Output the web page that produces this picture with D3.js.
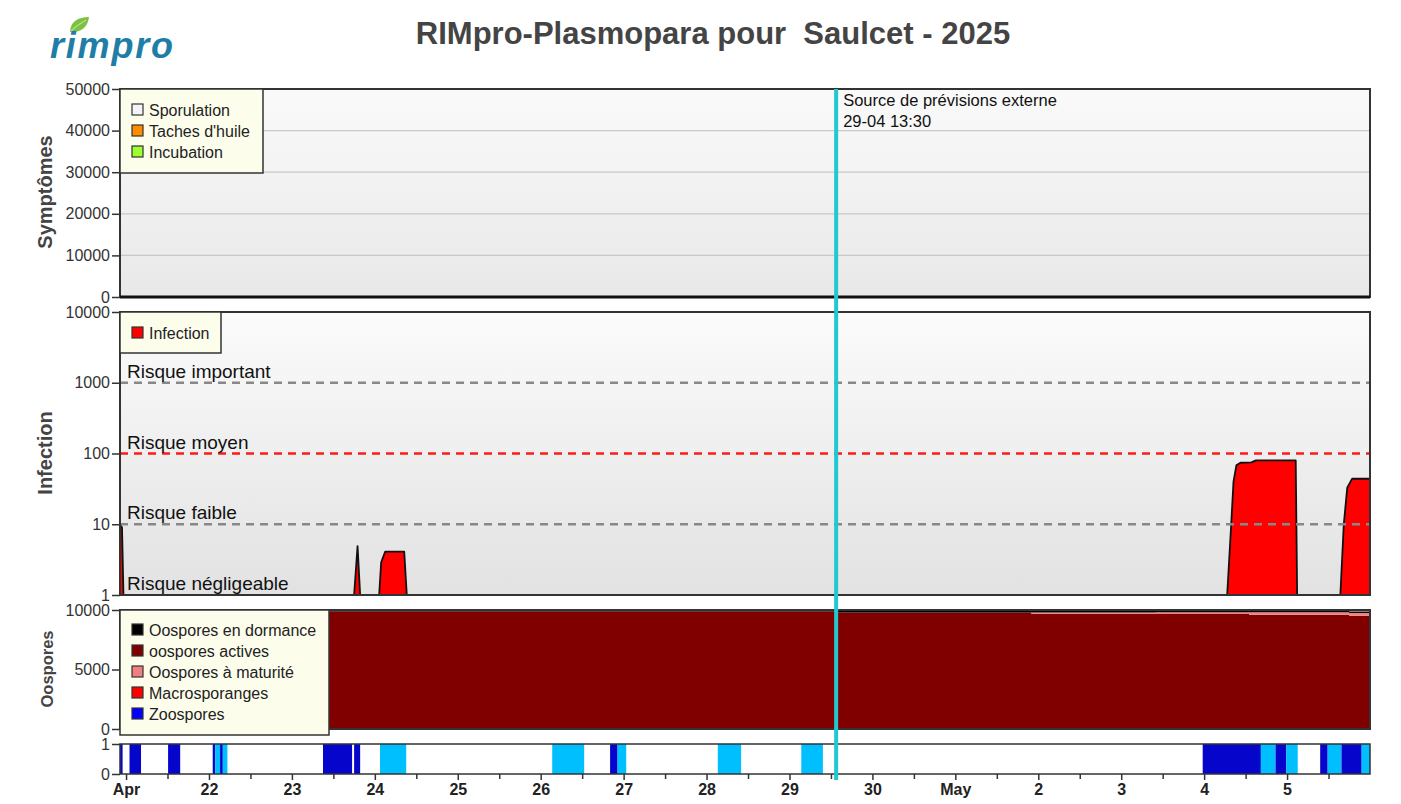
<!DOCTYPE html>
<html>
<head>
<meta charset="utf-8">
<script src="https://cdn.jsdelivr.net/npm/d3@7"></script>
<style>
  body { margin: 0; background: #fff; }
  text { font-family: "Liberation Sans", Arial, sans-serif; }
</style>
</head>
<body>
<div id="chart"></div>
<script>
var svgWidth = 1401;
var svgHeight = 804;

// ---- data ----
var startTime = "2025-04-20 22:15";
var endTime = "2025-05-06 00:00";
var forecastTime = "2025-04-29 13:30";

var symptomTicks = [0, 10000, 20000, 30000, 40000, 50000];
var infectionTicks = [1, 10, 100, 1000, 10000];
var oosporeTicks = [0, 5000, 10000];
var stripTicks = [0, 1];

var riskLevels = [1000, 100, 10, 1];
var riskLabels = ["Risque important", "Risque moyen", "Risque faible", "Risque négligeable"];

var infectionData = [
  ["2025-04-20 22:15", 10], ["2025-04-20 22:50", 9], ["2025-04-20 23:15", 1],
  ["2025-04-23 18:00", 1], ["2025-04-23 19:00", 4.9], ["2025-04-23 19:45", 1],
  ["2025-04-24 01:15", 1], ["2025-04-24 01:50", 2.9], ["2025-04-24 03:00", 4.1],
  ["2025-04-24 08:30", 4.1], ["2025-04-24 09:15", 1],
  ["2025-05-04 06:40", 1], ["2025-05-04 07:50", 10], ["2025-05-04 08:30", 40],
  ["2025-05-04 09:20", 68], ["2025-05-04 10:30", 74], ["2025-05-04 13:40", 75],
  ["2025-05-04 15:00", 80], ["2025-05-05 02:30", 80], ["2025-05-05 02:55", 1],
  ["2025-05-05 15:25", 1], ["2025-05-05 16:25", 10], ["2025-05-05 17:25", 33],
  ["2025-05-05 18:50", 44], ["2025-05-06 00:00", 44]
];

var oosTimes = ["2025-04-20 22:15", "2025-04-29 14:00", "2025-05-01 22:00", "2025-05-03 10:00", "2025-05-04 13:00", "2025-05-05 18:00", "2025-05-06 00:00"];
var oosDormance = [120, 170, 170, 160, 150, 140, 140];
var oosActives = [9880, 9790, 9690, 9660, 9600, 9520, 9520];
var oosMaturite = [0, 0, 110, 150, 220, 220, 220];
var oosMacro = [0, 0, 0, 0, 0, 0, 0];

// zoospore strip: [start, end, kind]
var zooSpans = [
  ["2025-04-20 22:15", "2025-04-20 23:00", "dark"],
  ["2025-04-21 01:00", "2025-04-21 04:20", "dark"],
  ["2025-04-21 12:10", "2025-04-21 15:40", "dark"],
  ["2025-04-22 01:05", "2025-04-22 01:50", "dark"],
  ["2025-04-22 01:50", "2025-04-22 03:13", "light"],
  ["2025-04-22 03:13", "2025-04-22 04:00", "dark"],
  ["2025-04-22 04:00", "2025-04-22 05:20", "light"],
  ["2025-04-23 09:00", "2025-04-23 17:25", "dark"],
  ["2025-04-23 18:00", "2025-04-23 19:45", "dark"],
  ["2025-04-24 01:30", "2025-04-24 09:05", "light"],
  ["2025-04-26 03:20", "2025-04-26 12:35", "light"],
  ["2025-04-26 20:05", "2025-04-26 22:15", "dark"],
  ["2025-04-26 22:15", "2025-04-27 00:45", "light"],
  ["2025-04-28 03:15", "2025-04-28 10:00", "light"],
  ["2025-04-29 03:25", "2025-04-29 09:40", "light"],
  ["2025-05-03 23:35", "2025-05-04 16:25", "dark"],
  ["2025-05-04 16:25", "2025-05-04 20:40", "light"],
  ["2025-05-04 20:40", "2025-05-04 23:45", "dark"],
  ["2025-05-04 23:45", "2025-05-05 03:05", "light"],
  ["2025-05-05 09:35", "2025-05-05 11:45", "dark"],
  ["2025-05-05 11:45", "2025-05-05 15:45", "light"],
  ["2025-05-05 15:45", "2025-05-05 21:35", "dark"],
  ["2025-05-05 21:35", "2025-05-06 00:00", "light"]
];

var dayTicks = ["2025-04-21", "2025-04-22", "2025-04-23", "2025-04-24", "2025-04-25", "2025-04-26", "2025-04-27", "2025-04-28", "2025-04-29", "2025-04-30", "2025-05-01", "2025-05-02", "2025-05-03", "2025-05-04", "2025-05-05"];
var dayLabels = ["Apr", "22", "23", "24", "25", "26", "27", "28", "29", "30", "May", "2", "3", "4", "5"];

var symptomLegend = ["Sporulation", "Taches d'huile", "Incubation"];
var symptomColors = ["#f4f4f8", "#ff8c00", "#9cff2e"];
var oosLegend = ["Oospores en dormance", "oospores actives", "Oospores à maturité", "Macrosporanges", "Zoospores"];
var oosColors = ["#000000", "#800000", "#f08080", "#ff0000", "#0000ff"];

// ---- layout ----
var parseTime = d3.timeParse("%Y-%m-%d %H:%M");
var parseDay = d3.timeParse("%Y-%m-%d");
var left = 120, right = 1370;
var panels = {
  symp: { top: 89, bottom: 297 },
  inf: { top: 312, bottom: 595 },
  oos: { top: 610, bottom: 729 },
  strip: { top: 744, bottom: 774 }
};

var svg = d3.select("#chart")
  .append("svg")
  .attr("width", svgWidth)
  .attr("height", svgHeight);

var defs = svg.append("defs");
function gradient(id, c1, c2) {
  var g = defs.append("linearGradient").attr("id", id)
    .attr("x1", 0).attr("y1", 0).attr("x2", 0).attr("y2", 1);
  g.append("stop").attr("offset", "0%").attr("stop-color", c1);
  g.append("stop").attr("offset", "100%").attr("stop-color", c2);
}
gradient("bgSymp", "#fafafa", "#e8e8e8");
gradient("bgInf", "#fbfbfb", "#e2e2e2");

var x = d3.scaleTime()
  .domain([parseTime(startTime), parseTime(endTime)])
  .range([left, right]);

var ySymp = d3.scaleLinear().domain([0, 50000]).range([panels.symp.bottom, panels.symp.top]);
var yInf = d3.scaleLog().domain([1, 10000]).range([panels.inf.bottom, panels.inf.top]);
var yOos = d3.scaleLinear().domain([0, 10000]).range([panels.oos.bottom, panels.oos.top]);
var yStrip = d3.scaleLinear().domain([0, 1]).range([panels.strip.bottom, panels.strip.top]);

// logo
var logo = svg.append("g");
logo.append("path")
  .attr("d", "M70,32 C70,22 78,17 89,17 C88,27 81,33 70,32 Z")
  .attr("fill", "#7cc242");
logo.append("path")
  .attr("d", "M71,31 C76,26 81,23 86,20")
  .attr("stroke", "#b8e08a").attr("stroke-width", 1.2).attr("fill", "none");
logo.append("text")
  .attr("x", 50).attr("y", 58)
  .attr("font-size", 36)
  .attr("font-weight", "bold")
  .attr("font-style", "italic")
  .attr("textLength", 123)
  .attr("fill", "#1f7ea6")
  .text("rimpro");

// title
svg.append("text")
  .attr("x", 713).attr("y", 44)
  .attr("text-anchor", "middle")
  .attr("font-size", 31)
  .attr("font-weight", "bold")
  .attr("fill", "#444")
  .style("white-space", "pre")
  .text("RIMpro-Plasmopara pour  Saulcet - 2025");

function leftAxis(scale, ticks, fmt) {
  var g = svg.append("g")
    .attr("transform", `translate(${left}, 0)`)
    .call(d3.axisLeft(scale).tickValues(ticks).tickSize(8).tickPadding(2).tickFormat(fmt || d3.format("d")));
  g.select(".domain").remove();
  g.selectAll("line").attr("stroke", "#333").attr("stroke-width", 1.5);
  g.selectAll("text").attr("font-size", 16).attr("fill", "#333").attr("font-family", "Liberation Sans, Arial, sans-serif");
  return g;
}

function yTitle(text, cy, size, cx) {
  svg.append("text")
    .attr("transform", `translate(${cx}, ${cy}) rotate(-90)`)
    .attr("text-anchor", "middle")
    .attr("font-size", size)
    .attr("font-weight", "bold")
    .attr("fill", "#444")
    .text(text);
}

function legend(items, colors, x0, y0, w, h, rowH, firstY) {
  var g = svg.append("g");
  g.append("rect").attr("x", x0).attr("y", y0).attr("width", w).attr("height", h)
    .attr("fill", "#fdfdec").attr("stroke", "#333").attr("stroke-width", 1.5);
  items.forEach(function(name, i) {
    var cy = firstY + i * rowH;
    g.append("rect").attr("x", x0 + 12).attr("y", cy - 6).attr("width", 11).attr("height", 11)
      .attr("fill", colors[i]).attr("stroke", "#333").attr("stroke-width", 1.2);
    g.append("text").attr("x", x0 + 29).attr("y", cy + 6)
      .attr("font-size", 16).attr("fill", "#222").text(name);
  });
}

// ===== Symptômes panel =====
var ps = panels.symp;
svg.append("rect").attr("x", left).attr("y", ps.top).attr("width", right - left).attr("height", ps.bottom - ps.top)
  .attr("fill", "url(#bgSymp)");
svg.append("g").selectAll("line").data(symptomTicks.slice(1, -1)).enter().append("line")
  .attr("x1", left).attr("x2", right)
  .attr("y1", d => ySymp(d)).attr("y2", d => ySymp(d))
  .attr("stroke", "#c8c8c8").attr("stroke-width", 1.2);
svg.append("rect").attr("x", left).attr("y", ps.top).attr("width", right - left).attr("height", ps.bottom - ps.top)
  .attr("fill", "none").attr("stroke", "#333").attr("stroke-width", 2);
svg.append("line").attr("x1", left).attr("x2", right).attr("y1", ySymp(0)).attr("y2", ySymp(0))
  .attr("stroke", "#111").attr("stroke-width", 3);
leftAxis(ySymp, symptomTicks);
yTitle("Symptômes", 192, 20, 52);
legend(symptomLegend, symptomColors, left, ps.top, 143, 84, 21, 110);

// ===== Infection panel =====
var pi = panels.inf;
svg.append("rect").attr("x", left).attr("y", pi.top).attr("width", right - left).attr("height", pi.bottom - pi.top)
  .attr("fill", "url(#bgInf)");

var infArea = d3.area()
  .x(d => x(parseTime(d[0])))
  .y0(yInf(1))
  .y1(d => yInf(d[1]));
svg.append("path").datum(infectionData)
  .attr("d", infArea)
  .attr("fill", "#ff0000")
  .attr("stroke", "#111")
  .attr("stroke-width", 1.8)
  .attr("stroke-linejoin", "round");

svg.append("g").selectAll("line").data(riskLevels.slice(0, 3)).enter().append("line")
  .attr("x1", left).attr("x2", right)
  .attr("y1", d => yInf(d)).attr("y2", d => yInf(d))
  .attr("stroke", d => d === 100 ? "#ff1a1a" : "#888")
  .attr("stroke-width", 2.5)
  .attr("stroke-dasharray", "8,6");

svg.append("g").selectAll("text").data(riskLevels).enter().append("text")
  .attr("x", 127)
  .attr("y", d => yInf(d) - 5)
  .attr("font-size", 19)
  .attr("fill", "#111")
  .text((d, i) => riskLabels[i]);

svg.append("rect").attr("x", left).attr("y", pi.top).attr("width", right - left).attr("height", pi.bottom - pi.top)
  .attr("fill", "none").attr("stroke", "#333").attr("stroke-width", 2);
leftAxis(yInf, infectionTicks, d3.format("d"));
yTitle("Infection", 453, 20, 52);
legend(["Infection"], ["#ff0000"], left, pi.top, 101, 41, 21, 333);

// ===== Oospores panel =====
var po = panels.oos;
svg.append("rect").attr("x", left).attr("y", po.top).attr("width", right - left).attr("height", po.bottom - po.top)
  .attr("fill", "#ffffff");

var oosRows = oosTimes.map(function(t, i) {
  return { date: parseTime(t), actives: oosActives[i], maturite: oosMaturite[i], macro: oosMacro[i], dormance: oosDormance[i] };
});
var stack = d3.stack().keys(["actives", "maturite", "macro", "dormance"]);
var layers = stack(oosRows);
var layerColors = { actives: "#800000", maturite: "#f08080", macro: "#ff0000", dormance: "#000000" };
var oosArea = d3.area()
  .curve(d3.curveStepAfter)
  .x(d => x(d.data.date))
  .y0(d => yOos(d[0]))
  .y1(d => yOos(d[1]));
svg.append("g").selectAll("path").data(layers).enter().append("path")
  .attr("d", oosArea)
  .attr("fill", d => layerColors[d.key]);

svg.append("rect").attr("x", left).attr("y", po.top).attr("width", right - left).attr("height", po.bottom - po.top)
  .attr("fill", "none").attr("stroke", "#333").attr("stroke-width", 2);
leftAxis(yOos, oosporeTicks);
yTitle("Oospores", 669, 16.5, 53);

// ===== zoospore strip =====
var pz = panels.strip;
svg.append("rect").attr("x", left).attr("y", pz.top).attr("width", right - left).attr("height", pz.bottom - pz.top)
  .attr("fill", "#fff");
svg.append("g").selectAll("rect").data(zooSpans).enter().append("rect")
  .attr("x", d => x(parseTime(d[0])))
  .attr("width", d => x(parseTime(d[1])) - x(parseTime(d[0])))
  .attr("y", yStrip(1))
  .attr("height", yStrip(0) - yStrip(1))
  .attr("fill", d => d[2] === "dark" ? "#0505cc" : "#00bfff");
svg.append("rect").attr("x", left).attr("y", pz.top).attr("width", right - left).attr("height", pz.bottom - pz.top)
  .attr("fill", "none").attr("stroke", "#333").attr("stroke-width", 1.5);
leftAxis(yStrip, stripTicks);

// oospore legend drawn over strip top
legend(oosLegend, oosColors, left, po.top, 209, 125, 21, 630);

// bottom time axis
var days = dayTicks.map(parseDay);
var noons = days.map(d => d3.timeHour.offset(d, 12)).filter(d => d < x.domain()[1]);
var minor = svg.append("g")
  .attr("transform", `translate(0, ${pz.bottom})`)
  .call(d3.axisBottom(x).tickValues(noons).tickSize(5).tickFormat(""));
minor.select(".domain").remove();
minor.selectAll("line").attr("stroke", "#333").attr("stroke-width", 1.5);

var major = svg.append("g")
  .attr("transform", `translate(0, ${pz.bottom})`)
  .call(d3.axisBottom(x).tickValues(days).tickSize(6).tickPadding(4)
    .tickFormat((d, i) => dayLabels[i]));
major.select(".domain").remove();
major.selectAll("line").attr("stroke", "#333").attr("stroke-width", 1.5);
major.selectAll("text").attr("font-size", 16).attr("font-weight", "bold").attr("fill", "#222")
  .attr("font-family", "Liberation Sans, Arial, sans-serif");

// forecast line
var fx = x(parseTime(forecastTime));
svg.append("line")
  .attr("x1", fx).attr("x2", fx)
  .attr("y1", ps.top).attr("y2", 780)
  .attr("stroke", "#1fc9cf").attr("stroke-width", 4);
svg.append("text").attr("x", fx + 7).attr("y", 106).attr("font-size", 16.5).attr("fill", "#111")
  .text("Source de prévisions externe");
svg.append("text").attr("x", fx + 7).attr("y", 127).attr("font-size", 16.5).attr("fill", "#111")
  .text("29-04 13:30");
</script>
</body>
</html>
